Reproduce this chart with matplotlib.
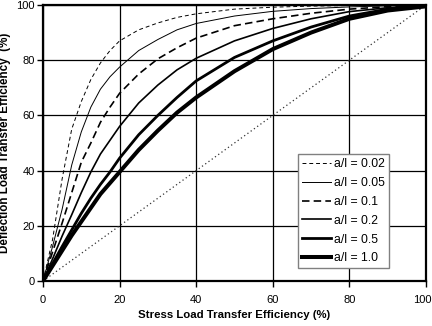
import matplotlib
matplotlib.use("Agg")
import matplotlib.pyplot as plt
import matplotlib.transforms as mtransforms

plt.rcParams['font.family'] = ['Liberation Sans', 'DejaVu Sans']

# Stress LTE (%) sample points
stress_lte = [0, 2.5, 5, 7.5, 10, 12.5, 15, 17.5, 20, 25, 30, 35, 40, 50, 60, 70, 80, 90, 100]

# Deflection LTE (%), per a/l
defl_002 = [0, 15, 37, 55, 65, 73, 79, 83.5, 87, 91, 93.5, 95.5, 96.8, 98.5, 99.2, 99.6, 99.8, 99.9, 100]
defl_005 = [0, 12.5, 26, 42, 54, 63, 69.5, 74, 77.5, 83.5, 87.5, 91, 93.3, 96, 97.7, 98.7, 99.3, 99.7, 100]
defl_01 = [0, 10.5, 21, 32, 43, 50, 57.5, 63, 68, 75, 80.5, 84.5, 88, 92.5, 95, 97, 98.5, 99.4, 100]
defl_02 = [0, 8, 16.3, 24, 32, 39.5, 46, 51, 56, 64.5, 71, 76.5, 80.7, 87, 91.5, 95, 97.6, 99, 100]
defl_05 = [0, 6.3, 12.5, 18.5, 24.5, 30, 35, 39.5, 44.5, 53, 60, 66.5, 72.5, 81, 87, 92, 96, 98.5, 100]
defl_10 = [0, 5.5, 11, 16.5, 21.5, 26.5, 31.5, 35.5, 39.5, 47.5, 54.5, 61, 66.5, 76, 84, 90, 95, 98, 99.5]

labels = ["a/l = 0.02", "a/l = 0.05", "a/l = 0.1", "a/l = 0.2", "a/l = 0.5", "a/l = 1.0"]
diag = [0, 100]

fig = plt.figure(figsize=(4.32, 3.26), dpi=100)
ax = fig.add_axes([0.0995, 0.138, 0.8865, 0.8467])

ax.plot(diag, diag, color='#333333', lw=0.9, linestyle=(0, (1, 2.2)), zorder=2)

ax.plot(stress_lte, defl_002, color='black', lw=0.7, linestyle=(0, (4, 3)), label=labels[0], zorder=3)
ax.plot(stress_lte, defl_005, color='black', lw=0.7, linestyle='-', label=labels[1], zorder=3)
ax.plot(stress_lte, defl_01, color='black', lw=1.2, linestyle=(0, (4.5, 2.5)), label=labels[2], zorder=3)
ax.plot(stress_lte, defl_02, color='black', lw=1.2, linestyle='-', label=labels[3], zorder=3)
ax.plot(stress_lte, defl_05, color='black', lw=2.0, linestyle='-', label=labels[4], zorder=3)
ax.plot(stress_lte, defl_10, color='black', lw=2.9, linestyle='-', label=labels[5], zorder=3)

ax.set_xlim(0, 100)
ax.set_ylim(0, 100)
ax.set_xticks([0, 20, 40, 60, 80, 100])
ax.set_yticks([0, 20, 40, 60, 80, 100])
ax.grid(True, color='black', lw=0.9, zorder=1)
ax.set_axisbelow(True)
for s in ax.spines.values():
    s.set_linewidth(1.6)
    s.set_color('black')
ax.tick_params(axis='both', direction='out', length=4, width=1, labelsize=8, colors='black')
ax.tick_params(axis='x', pad=6)
ax.tick_params(axis='y', pad=2)

# keep the last x tick label inside the figure, as in the reference
last = ax.get_xticklabels()[-1]
last.set_transform(last.get_transform() + mtransforms.ScaledTranslation(-4 / 100, 0, fig.dpi_scale_trans))

ax.set_xlabel("Stress Load Transfer Efficiency (%)", fontsize=8.2, fontweight='bold', labelpad=4)
ax.set_ylabel("Deflection Load Transfer Efficiency  (%)", fontsize=8.4, fontweight='bold', labelpad=4)

leg = ax.legend(loc='lower left', bbox_to_anchor=(0.666, 0.047), borderaxespad=0,
                fontsize=8.8, fancybox=False, edgecolor='#808080', framealpha=1,
                handlelength=2.4, handletextpad=0.25, labelspacing=0.56,
                borderpad=0.3)
leg.get_frame().set_linewidth(1.0)

fig.savefig("out.png", dpi=100)
